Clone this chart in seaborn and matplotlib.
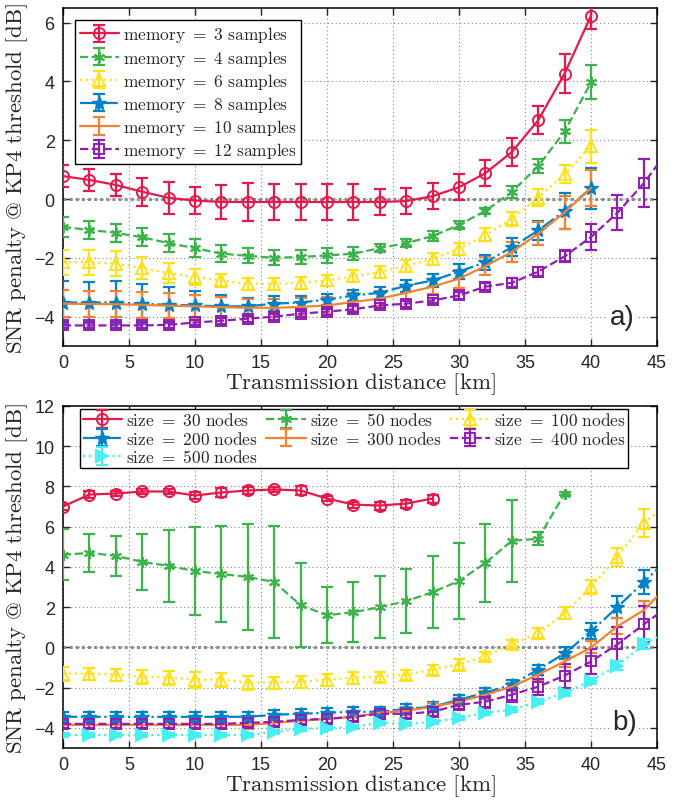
import matplotlib
matplotlib.use("Agg")
import matplotlib.pyplot as plt
import seaborn as sns
from matplotlib.legend_handler import HandlerTuple

# ---------------- data: panel a) ----------------
x_a = [0, 2, 4, 6, 8, 10, 12, 14, 16, 18, 20, 22, 24, 26, 28, 30, 32, 34, 36, 38, 40]
x_a12 = [0, 2, 4, 6, 8, 10, 12, 14, 16, 18, 20, 22, 24, 26, 28, 30, 32, 34, 36, 38, 40, 42, 44, 46]

mem3 = [0.78, 0.65, 0.48, 0.25, 0.04, -0.05, -0.1, -0.1, -0.1, -0.1, -0.1, -0.1, -0.1, -0.07, 0.1, 0.4, 0.88, 1.6, 2.68, 4.27, 6.24]
mem3_err = [0.37, 0.37, 0.37, 0.48, 0.54, 0.45, 0.58, 0.63, 0.62, 0.62, 0.6, 0.6, 0.45, 0.43, 0.44, 0.44, 0.45, 0.48, 0.47, 0.66, 0.45]
mem4 = [-0.95, -1.05, -1.15, -1.3, -1.5, -1.67, -1.86, -1.93, -2.0, -1.97, -1.92, -1.86, -1.67, -1.5, -1.26, -0.88, -0.4, 0.24, 1.12, 2.3, 3.97]
mem4_err = [0.34, 0.31, 0.3, 0.3, 0.3, 0.3, 0.28, 0.25, 0.25, 0.25, 0.25, 0.22, 0.14, 0.14, 0.17, 0.14, 0.1, 0.2, 0.25, 0.4, 0.58]
mem6 = [-2.15, -2.15, -2.2, -2.35, -2.52, -2.65, -2.77, -2.88, -2.88, -2.85, -2.77, -2.63, -2.48, -2.27, -2.04, -1.69, -1.22, -0.68, 0.05, 0.85, 1.8]
mem6_err = [0.42, 0.42, 0.42, 0.37, 0.34, 0.28, 0.22, 0.2, 0.2, 0.2, 0.2, 0.2, 0.2, 0.2, 0.2, 0.2, 0.22, 0.25, 0.3, 0.3, 0.56]
mem8 = [-3.52, -3.52, -3.52, -3.56, -3.6, -3.62, -3.65, -3.65, -3.56, -3.52, -3.42, -3.28, -3.19, -2.95, -2.77, -2.47, -2.15, -1.64, -1.07, -0.4, 0.37]
mem8_err = [0.73, 0.7, 0.72, 0.68, 0.62, 0.5, 0.37, 0.3, 0.25, 0.22, 0.2, 0.2, 0.2, 0.2, 0.22, 0.25, 0.25, 0.3, 0.34, 0.62, 0.7]
mem10 = [-3.56, -3.57, -3.58, -3.6, -3.63, -3.65, -3.68, -3.7, -3.7, -3.67, -3.62, -3.5, -3.39, -3.19, -2.98, -2.71, -2.28, -1.8, -1.18, -0.45, 0.37]
mem10_err = [0.45, 0.45, 0.45, 0.45, 0.42, 0.4, 0.35, 0.3, 0.3, 0.3, 0.3, 0.3, 0.25, 0.25, 0.25, 0.3, 0.3, 0.35, 0.4, 0.56, 0.62]
mem12 = [-4.3, -4.3, -4.3, -4.3, -4.28, -4.2, -4.14, -4.07, -4.0, -3.9, -3.83, -3.75, -3.62, -3.56, -3.45, -3.28, -2.98, -2.85, -2.47, -1.95, -1.29, -0.47, 0.54, 1.75]
mem12_err = [0.1, 0.1, 0.1, 0.1, 0.1, 0.1, 0.1, 0.1, 0.1, 0.1, 0.1, 0.1, 0.1, 0.1, 0.1, 0.12, 0.12, 0.15, 0.15, 0.2, 0.45, 0.6, 0.82, 0.9]

# ---------------- data: panel b) ----------------
x_b30 = [0, 2, 4, 6, 8, 10, 12, 14, 16, 18, 20, 22, 24, 26, 28]
x_b50 = [0, 2, 4, 6, 8, 10, 12, 14, 16, 18, 20, 22, 24, 26, 28, 30, 32, 34, 36, 38]
x_b = [0, 2, 4, 6, 8, 10, 12, 14, 16, 18, 20, 22, 24, 26, 28, 30, 32, 34, 36, 38, 40, 42, 44, 46]

size30 = [7.0, 7.6, 7.65, 7.75, 7.75, 7.55, 7.7, 7.8, 7.85, 7.8, 7.4, 7.1, 7.05, 7.15, 7.4]
size30_err = [0.15, 0.15, 0.12, 0.12, 0.12, 0.15, 0.2, 0.15, 0.12, 0.2, 0.12, 0.15, 0.2, 0.2, 0.2]
size50 = [4.6, 4.7, 4.55, 4.25, 4.05, 3.8, 3.65, 3.5, 3.25, 2.1, 1.6, 1.75, 2.0, 2.3, 2.75, 3.3, 4.2, 5.3, 5.4, 7.65]
size50_err = [1.27, 0.95, 1.0, 1.4, 1.8, 2.2, 2.4, 2.65, 2.8, 2.1, 1.4, 1.5, 1.55, 1.6, 1.8, 1.9, 1.95, 2.05, 0.33, 0.05]
size100 = [-1.3, -1.3, -1.35, -1.45, -1.5, -1.6, -1.6, -1.75, -1.75, -1.7, -1.6, -1.5, -1.45, -1.35, -1.1, -0.85, -0.45, 0.15, 0.7, 1.7, 3.0, 4.5, 6.2, 7.2]
size100_err = [0.35, 0.3, 0.3, 0.35, 0.35, 0.4, 0.35, 0.35, 0.3, 0.3, 0.3, 0.3, 0.25, 0.25, 0.25, 0.25, 0.2, 0.2, 0.25, 0.3, 0.35, 0.45, 0.7, 0.8]
size200 = [-3.45, -3.45, -3.45, -3.45, -3.45, -3.45, -3.45, -3.45, -3.35, -3.3, -3.25, -3.2, -3.2, -3.05, -2.95, -2.6, -2.25, -1.85, -1.1, -0.3, 0.8, 2.0, 3.25, 4.5]
size200_err = [0.25, 0.25, 0.25, 0.25, 0.25, 0.25, 0.25, 0.25, 0.25, 0.25, 0.25, 0.25, 0.25, 0.25, 0.25, 0.25, 0.25, 0.25, 0.25, 0.3, 0.4, 0.55, 0.6, 0.7]
size300 = [-3.85, -3.85, -3.85, -3.85, -3.85, -3.85, -3.85, -3.85, -3.75, -3.65, -3.55, -3.45, -3.25, -3.15, -2.95, -2.7, -2.35, -1.95, -1.35, -0.7, 0.0, 1.05, 1.85, 3.2]
size300_err = [0.2, 0.2, 0.2, 0.2, 0.2, 0.2, 0.2, 0.2, 0.2, 0.2, 0.2, 0.2, 0.2, 0.2, 0.2, 0.2, 0.2, 0.2, 0.25, 0.25, 0.3, 0.4, 0.45, 0.5]
size400 = [-3.8, -3.8, -3.8, -3.8, -3.8, -3.8, -3.8, -3.75, -3.7, -3.6, -3.55, -3.45, -3.3, -3.3, -3.2, -2.85, -2.7, -2.35, -1.95, -1.4, -0.7, 0.15, 1.15, 2.1]
size400_err = [0.2, 0.2, 0.2, 0.2, 0.2, 0.2, 0.2, 0.2, 0.2, 0.2, 0.2, 0.2, 0.2, 0.2, 0.2, 0.2, 0.3, 0.35, 0.4, 0.6, 0.6, 0.85, 0.9, 1.0]
size500 = [-4.35, -4.35, -4.35, -4.35, -4.35, -4.35, -4.35, -4.35, -4.2, -4.05, -4.0, -3.95, -3.75, -3.8, -3.7, -3.5, -3.25, -3.1, -2.7, -2.25, -1.65, -0.9, 0.15, 0.85]
size500_err = [0.1, 0.1, 0.1, 0.1, 0.1, 0.1, 0.1, 0.1, 0.1, 0.1, 0.1, 0.1, 0.1, 0.1, 0.1, 0.1, 0.1, 0.12, 0.12, 0.15, 0.15, 0.2, 0.25, 0.3]

x_ticks = [0, 5, 10, 15, 20, 25, 30, 35, 40, 45]
ya_ticks = [-4, -2, 0, 2, 4, 6]
yb_ticks = [-4, -2, 0, 2, 4, 6, 8, 10, 12]

RED, GREEN, YELLOW, BLUE, ORANGE, PURPLE, CYAN = (
    "#e6194b", "#3cb44b", "#ffe119", "#0082c8", "#f58231", "#911eb4", "#46f0f0")
ASTER = (6, 2, 0)

sns.set_style("ticks")
plt.rcParams["font.family"] = ["Liberation Sans", "DejaVu Sans"]
plt.rcParams["mathtext.fontset"] = "cm"

fig = plt.figure(figsize=(6.94, 8.04), dpi=100)
ax_a = fig.add_axes([0.0908, 0.5684, 0.8559, 0.4204])
ax_b = fig.add_axes([0.0908, 0.0684, 0.8559, 0.4254])


def draw(ax, x, y, e, color, marker, ls, label, mfc="none", ms=8, mew=1.4):
    eb = ax.errorbar(x, y, yerr=e, fmt="none", ecolor=color, elinewidth=1.6,
                     capsize=4, capthick=1.6, zorder=3)
    sns.lineplot(x=x, y=y, ax=ax, color=color, linestyle=ls, marker=marker,
                 markersize=ms, markerfacecolor=mfc, markeredgecolor=color,
                 markeredgewidth=mew, linewidth=1.6, errorbar=None,
                 legend=False, sort=False, zorder=4)
    line = ax.lines[-1]
    return (eb, line), label


def lab(s):
    s = s.replace("=", "{=}").replace(" ", r"\ ")
    return r"$\mathrm{" + s + "}$"


def style(ax, yt, ylim):
    ax.set_xlim(0, 45)
    ax.set_ylim(*ylim)
    ax.set_xticks(x_ticks)
    ax.set_yticks(yt)
    ax.grid(True, color="#8a8a8a", linestyle=(0, (1, 2.5)), linewidth=0.8)
    ax.axhline(0, color="#8c8c8c", linestyle=(0, (1, 1)), linewidth=2.2, zorder=2)
    ax.tick_params(direction="in", top=True, right=True, length=5, width=1,
                   labelsize=13, pad=6)
    for sp in ax.spines.values():
        sp.set_linewidth(1.1)
        sp.set_color("black")
    ax.set_xlabel(lab("Transmission distance [km]"), fontsize=16.5, labelpad=-1)
    ax.set_ylabel(lab("SNR penalty @ KP4 threshold [dB]"), fontsize=16.5, labelpad=3)


HM = {tuple: HandlerTuple(ndivide=1)}

# ---------- panel a ----------
ha = []
ha.append(draw(ax_a, x_a, mem3, mem3_err, RED, "o", "-", lab("memory = 3 samples")))
ha.append(draw(ax_a, x_a, mem4, mem4_err, GREEN, ASTER, "--", lab("memory = 4 samples"), ms=8))
ha.append(draw(ax_a, x_a, mem6, mem6_err, YELLOW, "^", ":", lab("memory = 6 samples"), ms=9))
ha.append(draw(ax_a, x_a, mem8, mem8_err, BLUE, "*", "-.", lab("memory = 8 samples"), mfc=BLUE, ms=10, mew=1))
ha.append(draw(ax_a, x_a, mem10, mem10_err, ORANGE, None, "-", lab("memory = 10 samples")))
ha.append(draw(ax_a, x_a12, mem12, mem12_err, PURPLE, "s", "--", lab("memory = 12 samples"), ms=7))
style(ax_a, ya_ticks, (-5, 6.5))
leg = ax_a.legend([h for h, _ in ha], [l for _, l in ha], loc="upper left",
                  handler_map=HM, fontsize=12.5,
                  frameon=True, fancybox=False, edgecolor="black", framealpha=1,
                  handlelength=2.3, labelspacing=0.18, borderpad=0.25,
                  handletextpad=0.2, borderaxespad=0.7)
leg.get_frame().set_linewidth(1.0)
ax_a.text(0.941, 0.086, "a)", transform=ax_a.transAxes, fontsize=20, ha="center",
          va="center", bbox=dict(facecolor="white", edgecolor="none", pad=1), zorder=6)

# ---------- panel b ----------
hb = {}
hb[30] = draw(ax_b, x_b30, size30, size30_err, RED, "o", "-", lab("size = 30 nodes"))
hb[50] = draw(ax_b, x_b50, size50, size50_err, GREEN, ASTER, "--", lab("size = 50 nodes"))
hb[100] = draw(ax_b, x_b, size100, size100_err, YELLOW, "^", ":", lab("size = 100 nodes"), ms=9)
hb[200] = draw(ax_b, x_b, size200, size200_err, BLUE, "*", "-.", lab("size = 200 nodes"), mfc=BLUE, ms=10, mew=1)
hb[300] = draw(ax_b, x_b, size300, size300_err, ORANGE, None, "-", lab("size = 300 nodes"))
hb[400] = draw(ax_b, x_b, size400, size400_err, PURPLE, "s", "--", lab("size = 400 nodes"), ms=7)
hb[500] = draw(ax_b, x_b, size500, size500_err, CYAN, ">", ":", lab("size = 500 nodes"), mfc=CYAN, ms=8)
style(ax_b, yb_ticks, (-5, 12))
order = [30, 200, 500, 50, 300, 100, 400]
leg = ax_b.legend([hb[k][0] for k in order], [hb[k][1] for k in order],
                  loc="upper center", ncol=3, bbox_to_anchor=(0.49, 1.0),
                  handler_map=HM, fontsize=12.5,
                  frameon=True, fancybox=False, edgecolor="black", framealpha=1,
                  handlelength=2.3, labelspacing=0.08, borderpad=0.15,
                  handletextpad=0.2, columnspacing=0.5, borderaxespad=0.15)
leg.get_frame().set_linewidth(1.0)
ax_b.text(0.946, 0.076, "b)", transform=ax_b.transAxes, fontsize=20, ha="center",
          va="center", bbox=dict(facecolor="white", edgecolor="none", pad=1), zorder=6)

fig.savefig("out.png", dpi=100)
